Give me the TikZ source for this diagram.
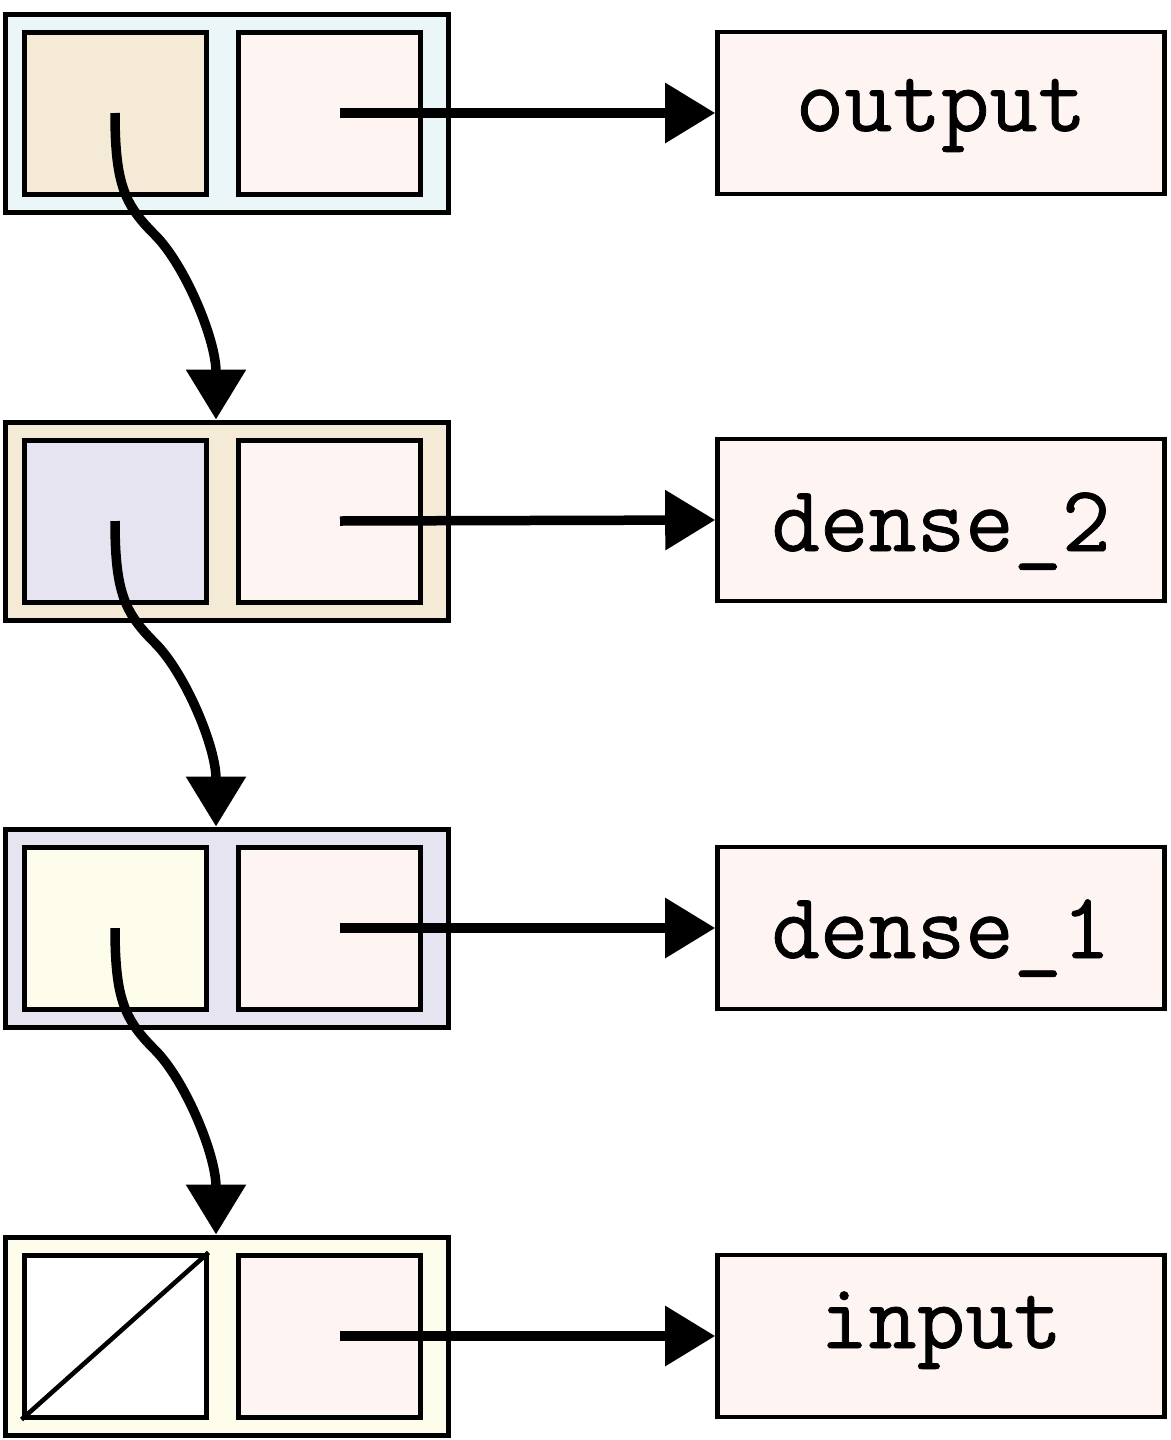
\documentclass[tikz,border=0pt]{standalone}
\usepackage{fontspec}
\newfontfamily\labfont[FakeBold=0.8]{Latin Modern Mono}
\usetikzlibrary{arrows.meta,calc}
\definecolor{cAzure}{HTML}{EAF6F8}
\definecolor{cAntique}{HTML}{F4EAD5}
\definecolor{cLavender}{HTML}{E6E4F1}
\definecolor{cIvory}{HTML}{FEFDEB}
\definecolor{cSnow}{HTML}{FEF4F2}
\begin{document}
\begin{tikzpicture}[x=1pt,y=-1pt,
  outerbox/.style={draw=black,line width=5pt,minimum width=443pt,minimum height=198pt,inner sep=0pt},
  cell/.style={draw=black,line width=5pt,minimum width=182pt,minimum height=162pt,inner sep=0pt},
  labelbox/.style={draw=black,line width=4.6pt,fill=cSnow,minimum width=447pt,minimum height=162pt,inner sep=0pt,
    font=\labfont\fontsize{94pt}{94pt}\selectfont,text depth=0pt},
  edge/.style={line width=9.5pt,-{Triangle[length=50pt,width=58pt]}}]
\useasboundingbox (0,0) rectangle (1170,1440);
% row 1
\node[outerbox,fill=cAzure] (o1) at (226.5,113) {};
\node[cell,fill=cAntique] (a1) at (115,113) {};
\node[cell,fill=cSnow] (r1) at (329,113) {};
\node[labelbox,text height=36pt] (l1) at (941,113) {output};
% row 2
\node[outerbox,fill=cAntique] (o2) at (226.5,521) {};
\node[cell,fill=cLavender] (a2) at (115,521) {};
\node[cell,fill=cSnow] (r2) at (329,521) {};
\node[labelbox,text height=62pt] (l2) at (941,520) {dense\_2};
% row 3
\node[outerbox,fill=cLavender] (o3) at (226.5,928) {};
\node[cell,fill=cIvory] (a3) at (115,928) {};
\node[cell,fill=cSnow] (r3) at (329,928) {};
\node[labelbox,text height=60pt] (l3) at (941,928) {dense\_1};
% row 4
\node[outerbox,fill=cIvory] (o4) at (226.5,1336) {};
\node[cell,fill=white] (a4) at (115,1336) {};
\node[cell,fill=cSnow] (r4) at (329,1336) {};
\node[labelbox,text height=24pt] (l4) at (941,1336) {input};
\draw[line width=4.6pt] (a4.south west) -- (a4.north east);
% horizontal edges
\foreach \i in {1,2,3,4}{
  \draw[edge] ([xshift=11pt]r\i.center) -- (l\i.west);
}
% curved edges
\foreach \i/\j in {1/2,2/3,3/4}{
  \draw[edge] (a\i.center) .. controls +(0,72) and +(-30,-30) .. ($(a\i.center)+(40,122)$)
     .. controls +(30,30) and +(0,-80) .. ([xshift=-10.5pt]o\j.north);
}
\end{tikzpicture}
\end{document}
